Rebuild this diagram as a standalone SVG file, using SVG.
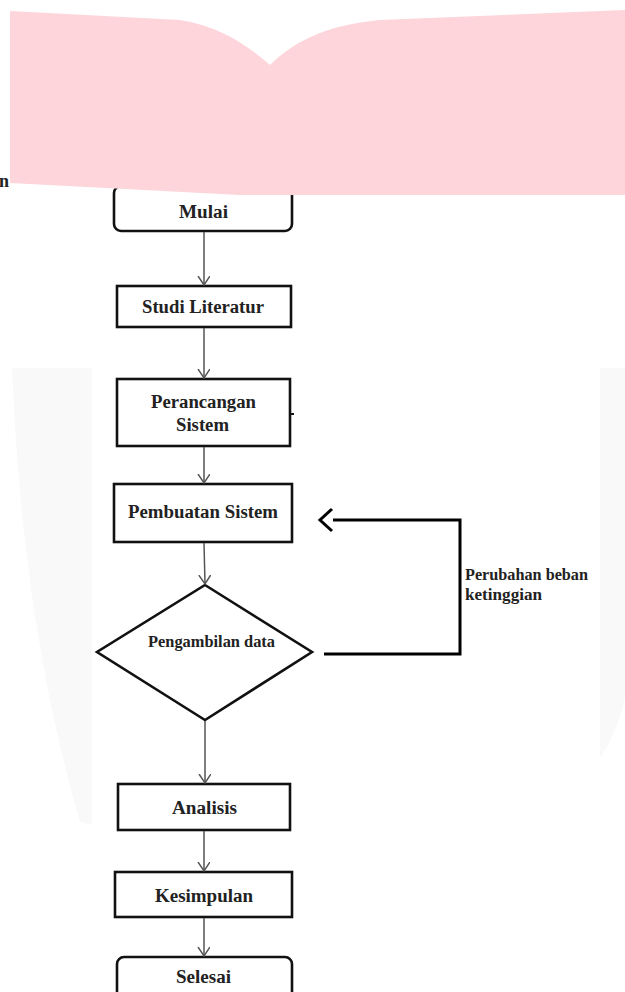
<svg xmlns="http://www.w3.org/2000/svg" width="625" height="992" viewBox="0 0 625 992">
<defs>
<style>
.box{fill:#fff;stroke:#111;stroke-width:2.6}
.lbl{font-family:"Liberation Serif","Times New Roman",serif;font-weight:bold;font-size:18.5px;fill:#222}
.small{font-size:16px}
.con{stroke:#555;stroke-width:1.5;fill:none;marker-end:url(#ah)}
.loop{stroke:#000;stroke-width:3;fill:none}
</style>
<marker id="ah" markerUnits="userSpaceOnUse" markerWidth="14" markerHeight="14" refX="9" refY="6" orient="auto">
<path d="M0,0 L9,6 L0,12" fill="none" stroke="#555" stroke-width="1.5"/>
</marker>
</defs>
<rect width="625" height="992" fill="#fff"/>
<g id="watermark" fill="#f9f9f9">
<path d="M12,368 L92,368 L92,825 L80,822 C45,700 20,560 12,368 Z"/>
<path d="M600,368 L625,368 L625,700 C618,725 610,745 600,757 Z"/>
</g>
<g id="node-mulai">
<rect class="box" x="114" y="186" width="178" height="45" rx="7"/>
<text class="lbl" x="179" y="218" textLength="49" lengthAdjust="spacingAndGlyphs">Mulai</text>
</g>
<g id="banner">
<path d="M10,11 L180,20 C220,26 248,46 270,65 C292,44 320,26 380,20 L625,10 L625,195 L240,195 L10,183 Z" fill="#fdd5da"/>
<text class="lbl" x="-1" y="187" style="font-size:18px">n</text>
</g>
<g id="node-studi">
<rect class="box" x="117" y="286" width="174" height="41"/>
<text class="lbl" x="142" y="313" textLength="122" lengthAdjust="spacingAndGlyphs">Studi Literatur</text>
</g>
<g id="node-perancangan">
<rect class="box" x="117" y="379" width="173" height="67"/>
<line x1="290" y1="414" x2="294" y2="414" stroke="#111" stroke-width="2"/>
<text class="lbl" x="151" y="408" textLength="105" lengthAdjust="spacingAndGlyphs">Perancangan</text>
<text class="lbl" x="176" y="431" textLength="53" lengthAdjust="spacingAndGlyphs">Sistem</text>
</g>
<g id="node-pembuatan">
<rect class="box" x="114" y="484" width="178" height="58"/>
<text class="lbl" x="128" y="518" textLength="150" lengthAdjust="spacingAndGlyphs">Pembuatan Sistem</text>
</g>
<g id="node-pengambilan">
<path class="box" d="M205,585 L312,652 L205,720 L97,652 Z" stroke-width="2.4"/>
<text class="lbl small" x="148" y="647" textLength="127" lengthAdjust="spacingAndGlyphs">Pengambilan data</text>
</g>
<g id="node-analisis">
<rect class="box" x="118" y="784" width="172" height="46"/>
<text class="lbl" x="172" y="814" textLength="65" lengthAdjust="spacingAndGlyphs">Analisis</text>
</g>
<g id="node-kesimpulan">
<rect class="box" x="115" y="872" width="177" height="45"/>
<text class="lbl" x="155" y="902" textLength="98" lengthAdjust="spacingAndGlyphs">Kesimpulan</text>
</g>
<g id="node-selesai">
<rect class="box" x="117" y="957" width="175" height="50" rx="7"/>
<text class="lbl" x="176" y="983" textLength="55" lengthAdjust="spacingAndGlyphs">Selesai</text>
</g>
<g id="connectors">
<line class="con" x1="204" y1="232" x2="204" y2="285"/>
<line class="con" x1="204" y1="328" x2="204" y2="378"/>
<line class="con" x1="204" y1="447" x2="204" y2="483"/>
<line class="con" x1="204" y1="543" x2="205" y2="584"/>
<line class="con" x1="205" y1="721" x2="205" y2="783"/>
<line class="con" x1="204" y1="831" x2="204" y2="871"/>
<line class="con" x1="204" y1="918" x2="204" y2="956"/>
<polyline class="loop" points="324,654 460,654 460,520 333,520"/>
<path class="loop" d="M332,509 L320,520 L332,531"/>
<text class="lbl small" x="465" y="580" textLength="123" lengthAdjust="spacingAndGlyphs">Perubahan beban</text>
<text class="lbl small" x="465" y="600" textLength="77" lengthAdjust="spacingAndGlyphs">ketinggian</text>
</g>
</svg>
